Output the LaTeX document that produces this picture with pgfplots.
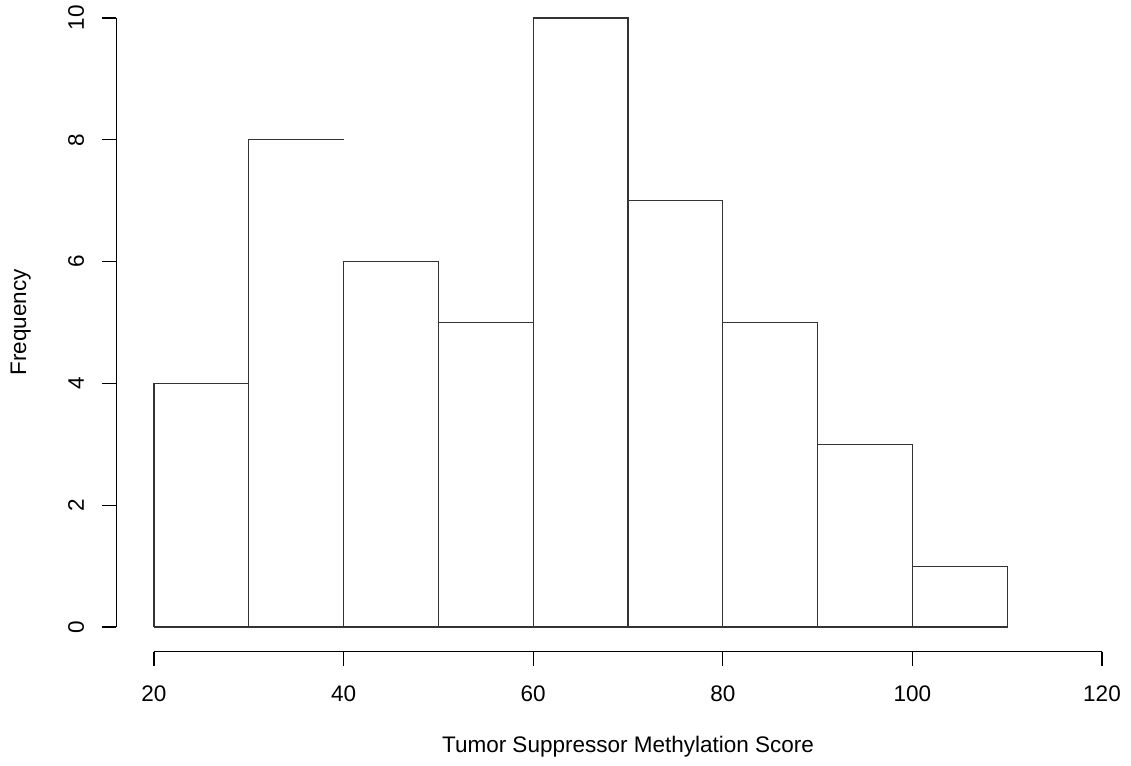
\documentclass[border=0pt]{standalone}
\usepackage{pgfplots}
\usepackage{fontspec}
\setmainfont{Liberation Sans}
\pgfplotsset{compat=1.18}

\begin{document}
\begin{tikzpicture}[every node/.style={font=\fontsize{11.25pt}{13.5pt}\selectfont}]
\begin{axis}[
  scale only axis,
  width=565.5pt, height=383pt,
  xmin=3.7553, xmax=123.059,
  ymin=-2.2824, ymax=10.2956,
  hide axis,
  clip=false,
  bar/.style={draw=black!80, line width=0.55pt},
]
  \coordinate (bbll) at (rel axis cs:0,0);
  \coordinate (bbur) at (rel axis cs:1,1);

  % histogram bars (bin width 10)
  \addplot[bar] coordinates {(20,0) (20,4) (30,4) (30,0) (20,0)};
  \addplot[bar] coordinates {(40,8) (30,8) (30,0) (40,0)};
  \addplot[bar] coordinates {(40,0) (40,6) (50,6) (50,0) (40,0)};
  \addplot[bar] coordinates {(50,0) (50,5) (60,5) (60,0) (50,0)};
  \addplot[bar] coordinates {(60,0) (60,10) (70,10) (70,0) (60,0)};
  \addplot[bar] coordinates {(70,0) (70,7) (80,7) (80,0) (70,0)};
  \addplot[bar] coordinates {(80,0) (80,5) (90,5) (90,0) (80,0)};
  \addplot[bar] coordinates {(90,0) (90,3) (100,3) (100,0) (90,0)};
  \addplot[bar] coordinates {(100,0) (100,1) (110,1) (110,0) (100,0)};

  % x axis
  \draw[line width=0.55pt] (axis cs:20,-0.405) -- (axis cs:120,-0.405);
  \pgfplotsinvokeforeach{20,40,60,80,100,120}{
    \draw[line width=0.55pt] (axis cs:#1,-0.405) -- (axis cs:#1,-0.635);
    \node[anchor=base] at (axis cs:#1,-1.227) {#1};
  }
  % y axis
  \draw[line width=0.55pt] (axis cs:16,0) -- (axis cs:16,10);
  \pgfplotsinvokeforeach{0,2,4,6,8,10}{
    \draw[line width=0.55pt] (axis cs:16,#1) -- (axis cs:14.515,#1);
    \node[anchor=base, rotate=90] at (axis cs:12.616,#1) {#1};
  }

  % axis titles
  \node[anchor=base] at (axis cs:70,-2.053) {Tumor Suppressor Methylation Score};
  \node[anchor=base, rotate=90] at (axis cs:6.498,5.0) {Frequency};
\end{axis}
\pgfresetboundingbox
\path (bbll) rectangle (bbur);
\end{tikzpicture}
\end{document}
